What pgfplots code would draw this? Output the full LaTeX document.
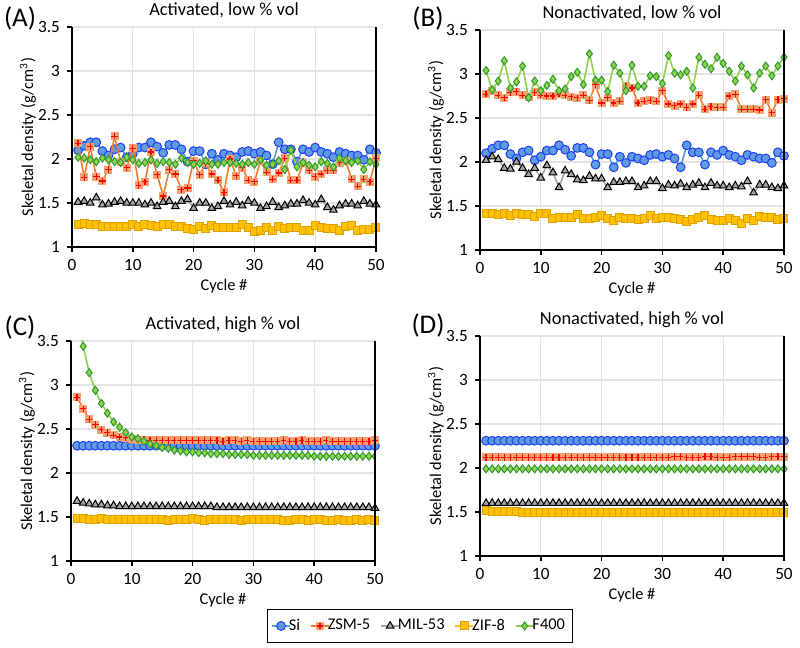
\documentclass[border=0pt]{standalone}
\usepackage{fontspec}
\setmainfont{Carlito}
\usepackage{pgfplots}
\usepackage{pgfplotstable}
\pgfplotsset{compat=1.18}

\definecolor{silin}{HTML}{5B9BD5}
\definecolor{sifill}{HTML}{5F9BE0}
\definecolor{siedge}{HTML}{1F3FF5}
\definecolor{zsmlin}{HTML}{ED7D31}
\definecolor{zsmfill}{HTML}{F5A06F}
\definecolor{millin}{HTML}{A5A5A5}
\definecolor{milfill}{HTML}{A5A5A5}
\definecolor{ziflin}{HTML}{FFC000}
\definecolor{ziffill}{HTML}{FFC000}
\definecolor{zifedge}{HTML}{E0A000}
\definecolor{flin}{HTML}{92D050}
\definecolor{ffill}{HTML}{92D050}
\definecolor{fedge}{HTML}{2E9A2E}

% orange square with red plus (Excel "plus" marker with fill)
\pgfdeclareplotmark{sqplus}{%
  \pgfpathrectangle{\pgfqpoint{-\pgfplotmarksize}{-\pgfplotmarksize}}{\pgfqpoint{2\pgfplotmarksize}{2\pgfplotmarksize}}%
  \pgfusepath{fill}%
  \pgfpathmoveto{\pgfqpoint{-0.8\pgfplotmarksize}{0pt}}\pgfpathlineto{\pgfqpoint{0.8\pgfplotmarksize}{0pt}}%
  \pgfpathmoveto{\pgfqpoint{0pt}{-0.8\pgfplotmarksize}}\pgfpathlineto{\pgfqpoint{0pt}{0.8\pgfplotmarksize}}%
  \pgfusepath{stroke}}

\pgfplotstableread{
c si zsm mil zif f400
1 2.10 2.18 1.51 1.25 2.02
2 2.15 1.79 1.52 1.27 2.01
3 2.19 2.14 1.50 1.25 1.99
4 2.19 1.80 1.56 1.26 1.97
5 2.09 1.75 1.48 1.23 2.01
6 2.04 1.88 1.49 1.23 1.99
7 2.11 2.26 1.51 1.23 1.97
8 2.13 1.97 1.52 1.23 1.96
9 2.02 1.90 1.50 1.23 2.02
10 2.06 2.12 1.50 1.26 1.99
11 2.13 1.70 1.50 1.23 1.95
12 2.13 1.74 1.48 1.25 1.96
13 2.19 2.08 1.50 1.24 1.99
14 2.14 1.82 1.46 1.23 1.95
15 2.07 1.58 1.51 1.26 1.97
16 2.16 1.88 1.52 1.25 1.96
17 2.16 1.83 1.46 1.23 1.94
18 2.11 1.65 1.52 1.23 2.01
19 1.97 1.67 1.54 1.21 1.96
20 2.09 1.98 1.44 1.20 1.94
21 2.09 1.82 1.50 1.23 1.95
22 1.94 1.95 1.50 1.21 1.98
23 2.06 1.83 1.44 1.24 1.94
24 1.99 1.76 1.46 1.22 1.94
25 2.06 1.62 1.52 1.22 1.96
26 2.04 2.00 1.48 1.22 1.96
27 2.02 1.81 1.51 1.22 1.95
28 2.08 1.90 1.47 1.26 1.94
29 2.09 1.76 1.52 1.22 1.96
30 2.06 1.74 1.50 1.18 1.94
31 2.08 1.98 1.44 1.19 1.99
32 2.04 1.85 1.46 1.22 1.93
33 1.94 1.77 1.51 1.19 1.94
34 2.19 1.84 1.45 1.23 1.98
35 2.11 2.01 1.47 1.21 1.88
36 2.11 1.76 1.49 1.22 2.10
37 1.97 1.76 1.49 1.22 1.91
38 2.11 1.95 1.53 1.19 1.96
39 2.08 1.87 1.50 1.19 1.93
40 2.13 1.80 1.48 1.24 1.91
41 2.08 1.83 1.54 1.22 1.97
42 2.06 1.87 1.45 1.21 1.95
43 2.02 1.87 1.42 1.21 1.91
44 2.08 1.96 1.47 1.19 2.01
45 2.06 1.98 1.49 1.23 1.98
46 2.04 1.77 1.49 1.24 1.96
47 2.04 1.69 1.47 1.19 1.98
48 1.99 1.77 1.52 1.20 1.88
49 2.11 1.74 1.49 1.20 1.97
50 2.07 2.01 1.48 1.22 1.94
}\dataA

\pgfplotstableread{
c si zsm mil zif f400
1 2.10 2.77 2.02 1.42 3.04
2 2.15 2.81 2.06 1.42 2.82
3 2.19 2.76 2.03 1.40 2.92
4 2.19 2.73 1.93 1.42 3.15
5 2.09 2.79 1.92 1.39 2.84
6 2.04 2.80 2.00 1.41 2.91
7 2.11 2.76 1.93 1.40 3.09
8 2.13 2.74 1.86 1.40 2.73
9 2.02 2.79 1.93 1.38 2.92
10 2.06 2.76 1.82 1.41 2.81
11 2.13 2.75 1.96 1.41 2.87
12 2.13 2.75 1.88 1.36 2.94
13 2.19 2.77 1.71 1.37 2.81
14 2.14 2.76 1.90 1.37 2.83
15 2.07 2.74 1.86 1.37 2.97
16 2.16 2.73 1.80 1.40 3.02
17 2.16 2.76 1.79 1.36 2.88
18 2.11 2.70 1.84 1.36 3.23
19 1.97 2.88 1.81 1.37 2.93
20 2.09 2.67 1.81 1.39 2.93
21 2.09 2.73 1.71 1.36 2.80
22 1.94 2.67 1.77 1.33 3.10
23 2.06 2.69 1.77 1.37 3.01
24 1.99 2.86 1.78 1.36 2.81
25 2.06 2.84 1.78 1.36 3.10
26 2.04 2.67 1.71 1.35 2.86
27 2.02 2.69 1.73 1.36 2.86
28 2.08 2.70 1.78 1.39 2.98
29 2.09 2.69 1.78 1.36 2.97
30 2.06 2.81 1.70 1.37 2.89
31 2.08 2.66 1.74 1.37 3.21
32 2.04 2.64 1.73 1.36 3.01
33 1.94 2.66 1.75 1.35 2.99
34 2.19 2.62 1.71 1.32 3.03
35 2.11 2.66 1.74 1.35 2.84
36 2.11 2.76 1.76 1.37 3.19
37 1.97 2.60 1.71 1.39 3.11
38 2.11 2.63 1.76 1.35 3.06
39 2.08 2.62 1.73 1.33 3.19
40 2.13 2.62 1.73 1.33 3.12
41 2.08 2.75 1.71 1.36 3.03
42 2.06 2.77 1.73 1.34 2.92
43 2.02 2.60 1.72 1.30 3.09
44 2.08 2.60 1.78 1.36 2.99
45 2.06 2.60 1.65 1.34 2.84
46 2.04 2.59 1.74 1.38 3.01
47 2.04 2.71 1.74 1.37 3.09
48 1.99 2.56 1.71 1.37 2.98
49 2.11 2.71 1.70 1.35 3.09
50 2.07 2.72 1.73 1.36 3.19
}\dataB

\pgfplotstableread{
c si zsm mil zif f400
1 2.31 2.86 1.68 1.48 3.89
2 2.31 2.73 1.66 1.48 3.44
3 2.31 2.61 1.65 1.47 3.14
4 2.31 2.55 1.64 1.47 2.94
5 2.31 2.49 1.64 1.48 2.79
6 2.31 2.46 1.63 1.47 2.68
7 2.31 2.43 1.63 1.47 2.58
8 2.31 2.41 1.62 1.47 2.52
9 2.31 2.40 1.62 1.47 2.46
10 2.31 2.39 1.62 1.47 2.41
11 2.31 2.38 1.62 1.47 2.39
12 2.31 2.38 1.62 1.47 2.36
13 2.31 2.37 1.62 1.47 2.33
14 2.31 2.37 1.62 1.47 2.31
15 2.31 2.37 1.62 1.47 2.29
16 2.31 2.37 1.62 1.46 2.28
17 2.31 2.37 1.62 1.47 2.26
18 2.31 2.37 1.62 1.47 2.25
19 2.31 2.37 1.62 1.47 2.24
20 2.31 2.37 1.62 1.48 2.24
21 2.31 2.37 1.62 1.47 2.23
22 2.31 2.37 1.62 1.46 2.23
23 2.31 2.37 1.62 1.47 2.22
24 2.31 2.37 1.61 1.47 2.22
25 2.31 2.36 1.61 1.47 2.22
26 2.31 2.37 1.61 1.47 2.21
27 2.31 2.37 1.61 1.47 2.21
28 2.31 2.36 1.61 1.46 2.21
29 2.31 2.37 1.61 1.47 2.21
30 2.31 2.36 1.61 1.47 2.20
31 2.31 2.36 1.61 1.47 2.20
32 2.31 2.36 1.61 1.47 2.20
33 2.31 2.36 1.61 1.47 2.20
34 2.31 2.36 1.61 1.47 2.20
35 2.31 2.37 1.61 1.46 2.20
36 2.31 2.36 1.61 1.46 2.20
37 2.31 2.36 1.61 1.47 2.20
38 2.31 2.37 1.61 1.47 2.20
39 2.31 2.36 1.61 1.46 2.20
40 2.31 2.36 1.61 1.47 2.19
41 2.31 2.36 1.61 1.47 2.19
42 2.31 2.37 1.61 1.46 2.19
43 2.31 2.36 1.61 1.46 2.19
44 2.31 2.36 1.61 1.47 2.19
45 2.31 2.36 1.61 1.46 2.19
46 2.31 2.36 1.61 1.46 2.19
47 2.31 2.36 1.61 1.47 2.19
48 2.31 2.36 1.61 1.46 2.19
49 2.31 2.36 1.61 1.47 2.19
50 2.31 2.37 1.60 1.46 2.19
}\dataC

\pgfplotstableread{
c si zsm mil zif f400
1 2.31 2.12 1.60 1.52 1.99
2 2.31 2.12 1.60 1.51 1.99
3 2.31 2.12 1.60 1.50 1.99
4 2.31 2.12 1.60 1.50 1.99
5 2.31 2.12 1.60 1.50 1.99
6 2.31 2.12 1.60 1.50 1.99
7 2.31 2.12 1.60 1.49 1.99
8 2.31 2.12 1.60 1.49 1.99
9 2.31 2.12 1.60 1.49 1.99
10 2.31 2.12 1.60 1.49 1.99
11 2.31 2.12 1.60 1.49 1.99
12 2.31 2.12 1.60 1.49 1.99
13 2.31 2.12 1.60 1.49 1.99
14 2.31 2.12 1.60 1.49 1.99
15 2.31 2.12 1.60 1.49 1.99
16 2.31 2.12 1.60 1.49 1.99
17 2.31 2.12 1.60 1.49 1.99
18 2.31 2.12 1.60 1.49 1.99
19 2.31 2.12 1.60 1.49 1.99
20 2.31 2.12 1.60 1.49 1.99
21 2.31 2.12 1.60 1.49 1.99
22 2.31 2.12 1.60 1.49 1.99
23 2.31 2.12 1.60 1.49 1.99
24 2.31 2.12 1.60 1.49 1.99
25 2.31 2.12 1.60 1.49 1.99
26 2.31 2.12 1.60 1.49 1.99
27 2.31 2.12 1.60 1.49 1.99
28 2.31 2.12 1.60 1.49 1.99
29 2.31 2.12 1.60 1.49 1.99
30 2.31 2.12 1.60 1.49 1.99
31 2.31 2.12 1.60 1.49 1.99
32 2.31 2.13 1.60 1.49 1.99
33 2.31 2.13 1.60 1.49 1.99
34 2.31 2.12 1.60 1.49 1.99
35 2.31 2.12 1.60 1.49 1.99
36 2.31 2.12 1.60 1.49 1.99
37 2.31 2.13 1.60 1.49 1.99
38 2.31 2.13 1.60 1.49 1.99
39 2.31 2.12 1.60 1.49 1.99
40 2.31 2.12 1.60 1.49 1.99
41 2.31 2.12 1.60 1.49 1.99
42 2.31 2.13 1.60 1.49 1.99
43 2.31 2.13 1.60 1.49 1.99
44 2.31 2.13 1.60 1.49 1.99
45 2.31 2.13 1.60 1.49 1.99
46 2.31 2.12 1.60 1.49 1.99
47 2.31 2.12 1.60 1.49 1.99
48 2.31 2.13 1.60 1.49 1.99
49 2.31 2.13 1.60 1.49 1.99
50 2.31 2.13 1.60 1.49 1.99
}\dataD

\pgfplotsset{
  panel/.style={
    scale only axis, width=152pt, height=110pt,
    xmin=0, xmax=50, ymin=1, ymax=3.5,
    xtick={0,10,...,50}, ytick={1,1.5,...,3.5},
    grid=major, grid style={gray!22, line width=0.6pt},
    axis lines=left, x axis line style={-}, y axis line style={-},
    axis line style={line width=1.1pt, black},
    tick align=outside, major tick length=2.5pt,
    tick style={black, line width=0.8pt},
    ticklabel style={font=\fontsize{8.6}{10}\selectfont},
    /pgf/number format/assume math mode=true,
    xlabel={Cycle \#},
    ylabel={Skeletal density (g/cm\textsuperscript{3})},
    every axis x label/.style={at={(axis description cs:0.5,-0.18)}, anchor=center, font=\fontsize{8.2}{9}\selectfont},
    every axis y label/.style={at={(axis description cs:-0.145,0.5)}, rotate=90, anchor=center, font=\fontsize{8.2}{9}\selectfont},
    every axis title/.style={at={(axis description cs:0.5,1.075)}, anchor=center, font=\fontsize{9.2}{10}\selectfont},
    clip mode=individual,
    after end axis/.code={\draw[line width=1.1pt, black] (rel axis cs:1,0) -- (rel axis cs:1,1);},
    legend image code/.code={\draw[mark repeat=2,mark phase=2] plot coordinates {(0pt,0pt) (4.5pt,0pt) (9pt,0pt)};},
  },
  si/.style={color=silin, line width=0.8pt, mark=*, mark size=2.2pt, mark options={fill=sifill, draw=siedge, line width=0.5pt}},
  zsm/.style={color=zsmlin, line width=0.8pt, mark=sqplus, mark size=2pt, mark options={fill=zsmfill, draw=red, line width=0.6pt}},
  mil/.style={color=millin, line width=0.8pt, mark=triangle*, mark size=2.2pt, mark options={fill=milfill, draw=black, line width=0.5pt}},
  zif/.style={color=ziflin, line width=0.8pt, mark=square*, mark size=2pt, mark options={fill=ziffill, draw=zifedge, line width=0.5pt}},
  fff/.style={color=flin, line width=0.8pt, mark=diamond*, mark size=2pt, mark options={fill=ffill, draw=fedge, line width=0.5pt}},
}

\begin{document}
\begin{tikzpicture}
\useasboundingbox (0,0) rectangle (400pt,324pt);

\begin{axis}[panel, at={(36pt,200.5pt)}, anchor=south west, title={Activated, low \% vol}]
\addplot[si] table[x=c,y=si]{\dataA};
\addplot[zsm] table[x=c,y=zsm]{\dataA};
\addplot[mil] table[x=c,y=mil]{\dataA};
\addplot[zif] table[x=c,y=zif]{\dataA};
\addplot[fff] table[x=c,y=f400]{\dataA};
\end{axis}

\begin{axis}[panel, at={(240pt,199pt)}, anchor=south west, title={Nonactivated, low \% vol}]
\addplot[si] table[x=c,y=si]{\dataB};
\addplot[zsm] table[x=c,y=zsm]{\dataB};
\addplot[mil] table[x=c,y=mil]{\dataB};
\addplot[zif] table[x=c,y=zif]{\dataB};
\addplot[fff] table[x=c,y=f400]{\dataB};
\end{axis}

\begin{axis}[panel, at={(35.5pt,43.5pt)}, anchor=south west, title={Activated, high \% vol}]
\addplot[si] table[x=c,y=si]{\dataC};
\addplot[zsm] table[x=c,y=zsm]{\dataC};
\addplot[mil] table[x=c,y=mil]{\dataC};
\addplot[zif] table[x=c,y=zif]{\dataC};
\addplot[fff, clip marker paths=true] table[x=c,y=f400]{\dataC};
\end{axis}

\begin{axis}[panel, at={(240pt,46pt)}, anchor=south west, title={Nonactivated, high \% vol},
  legend columns=5,
  legend style={at={(axis description cs:-0.197,-0.318)}, anchor=center, draw=black, line width=0.5pt,
    font=\fontsize{8.2}{9}\selectfont, inner xsep=2pt, inner ysep=2.5pt,
    /tikz/every even column/.append style={column sep=3pt},
    /tikz/every odd column/.append style={column sep=-3pt}}]
\addplot[si] table[x=c,y=si]{\dataD};
\addplot[zsm] table[x=c,y=zsm]{\dataD};
\addplot[mil] table[x=c,y=mil]{\dataD};
\addplot[zif] table[x=c,y=zif]{\dataD};
\addplot[fff] table[x=c,y=f400]{\dataD};
\legend{Si, ZSM-5, MIL-53, ZIF-8, F400}
\end{axis}

\node[font=\fontsize{13.5}{15}\selectfont] at (10pt,314.5pt) {(A)};
\node[font=\fontsize{13.5}{15}\selectfont] at (214pt,314.5pt) {(B)};
\node[font=\fontsize{13.5}{15}\selectfont] at (10pt,160pt) {(C)};
\node[font=\fontsize{13.5}{15}\selectfont] at (214pt,161pt) {(D)};
\end{tikzpicture}
\end{document}
